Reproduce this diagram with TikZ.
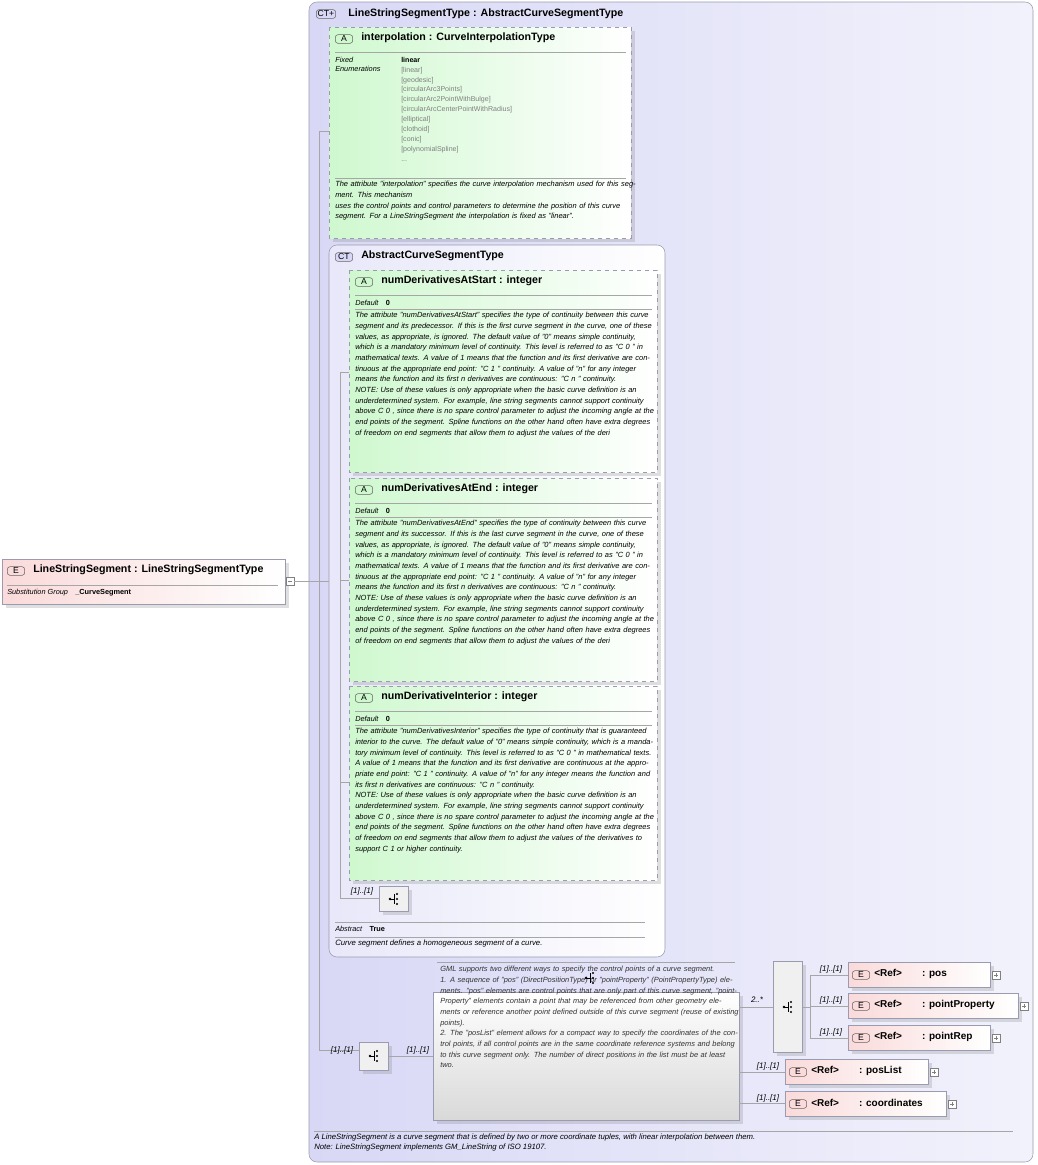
\documentclass[tikz,border=0pt]{standalone}
\usepackage{fontspec}
\setmainfont{Liberation Sans}
\usetikzlibrary{shadows}
\definecolor{lav}{HTML}{D8D8F6}
\definecolor{lavl}{HTML}{F2F2FC}
\definecolor{grn}{HTML}{CFF8CF}
\definecolor{pnk}{HTML}{FADADA}
\definecolor{bd}{HTML}{9A9AB0}
\tikzset{
 ctbox/.style={draw=bd,rounded corners=6pt,left color=lav,right color=lavl},
 abox/.style={draw=bd,dashed,left color=grn,right color=white,drop shadow={opacity=0.25}},
 ebox/.style={draw=bd,left color=pnk,right color=white,drop shadow={opacity=0.25}},
 seqbox/.style={draw=bd,fill=gray!12,drop shadow={opacity=0.25}},
 ttl/.style={anchor=west,font=\fontsize{8}{9}\selectfont\bfseries,inner sep=0},
 sm/.style={anchor=north west,inner sep=0,font=\fontsize{5.5}{7}\selectfont\itshape,align=left},
 desc/.style={anchor=north west,inner sep=0,font=\fontsize{5.6}{8}\selectfont\itshape,align=left,text width=226pt},
 lab/.style={inner sep=0,font=\fontsize{6}{7}\selectfont\itshape},
 badge/.style={draw=black!60,rounded corners=2pt,inner sep=1pt,minimum width=13pt,font=\fontsize{6.5}{7}\selectfont},
 sep/.style={draw=gray!70},
 conn/.style={draw=gray!70}
}
\newcommand{\seqicon}[1]{%
 \fill #1 ++(-4,0) circle (1.3);
 \draw #1 ++(-4,0) -- ++(4,0) ++(0,-5) -- ++(0,10);
 \fill #1 ++(3,-5) circle (1.2) ++(0,5) circle(1.2) ++(0,5) circle (1.2);}
\begin{document}
\begin{tikzpicture}[x=0.75pt,y=-0.75pt]
\useasboundingbox (0,0) rectangle (1038,1165);
% outer CT
\path[ctbox] (309,2) rectangle (1033,1162);
\node[badge,fill=lav] (ct1) at (326,14) {CT+};
\node[ttl] (t1) at (348,14) {LineStringSegmentType : AbstractCurveSegmentType};
% interpolation
\path[abox] (329,27) rectangle (631,238);
\node[badge,fill=grn] at (344,39) {A};
\node[ttl] (ai) at (361,38) {interpolation : CurveInterpolationType};
\draw[sep] (335,52) -- (626,52);
\node[sm] at (335,57) {Fixed\\Enumerations};
\node[sm,font=\fontsize{5.3}{7.4}\selectfont,text=gray] at (401,57) {\textcolor{black}{\bfseries linear}\\{}[linear]\\{}[geodesic]\\{}[circularArc3Points]\\{}[circularArc2PointWithBulge]\\{}[circularArcCenterPointWithRadius]\\{}[elliptical]\\{}[clothoid]\\{}[conic]\\{}[polynomialSpline]\\{}...};
\draw[sep] (335,178) -- (626,178);
\node[desc] at (335,181) {The attribute "interpolation" specifies the curve interpolation mechanism used for this segment. This mechanism\\ uses the control points and control parameters to determine the position of this curve segment. For a LineStringSegment the interpolation is fixed as "linear".};
% inner CT
\path[ctbox,left color=lavl!60!lav,right color=white] (329,245) rectangle (665,957);
\node[badge,fill=lav] at (344,257) {CT};
\node[ttl] at (361,256) {AbstractCurveSegmentType};
% attribute boxes
\foreach \y/\h/\name in {270/202/numDerivativesAtStart,478/203/numDerivativesAtEnd,686/194/numDerivativeInterior}{
 \path[abox] (349,\y) rectangle (657,\y+\h);
 \node[badge,fill=grn] at (364,\y+12) {A};
 \node[ttl] at (381,\y+11) {\name\ : integer};
 \draw[sep] (355,\y+25) -- (652,\y+25);
 \node[sm] at (355,\y+30) {Default\quad\upshape\bfseries 0};
 \draw[sep] (355,\y+39) -- (652,\y+39);
}
\node[desc] at (355,312) {The attribute "numDerivativesAtStart" specifies the type of continuity between this curve segment and its predecessor. If this is the first curve segment in the curve, one of these values, as appropriate, is ignored. The default value of "0" means simple continuity, which is a mandatory minimum level of continuity. This level is referred to as "C 0 " in mathematical texts. A value of 1 means that the function and its first derivative are continuous at the appropriate end point: "C 1 " continuity. A value of "n" for any integer means the function and its first n derivatives are continuous: "C n " continuity.\\ NOTE: Use of these values is only appropriate when the basic curve definition is an underdetermined system. For example, line string segments cannot support continuity above C 0 , since there is no spare control parameter to adjust the incoming angle at the end points of the segment. Spline functions on the other hand often have extra degrees of freedom on end segments that allow them to adjust the values of the deri};
\node[desc] at (355,520) {The attribute "numDerivativesAtEnd" specifies the type of continuity between this curve segment and its successor. If this is the last curve segment in the curve, one of these values, as appropriate, is ignored. The default value of "0" means simple continuity, which is a mandatory minimum level of continuity. This level is referred to as "C 0 " in mathematical texts. A value of 1 means that the function and its first derivative are continuous at the appropriate end point: "C 1 " continuity. A value of "n" for any integer means the function and its first n derivatives are continuous: "C n " continuity.\\ NOTE: Use of these values is only appropriate when the basic curve definition is an underdetermined system. For example, line string segments cannot support continuity above C 0 , since there is no spare control parameter to adjust the incoming angle at the end points of the segment. Spline functions on the other hand often have extra degrees of freedom on end segments that allow them to adjust the values of the deri};
\node[desc] at (355,728) {The attribute "numDerivativesInterior" specifies the type of continuity that is guaranteed interior to the curve. The default value of "0" means simple continuity, which is a mandatory minimum level of continuity. This level is referred to as "C 0 " in mathematical texts. A value of 1 means that the function and its first derivative are continuous at the appropriate end point: "C 1 " continuity. A value of "n" for any integer means the function and its first n derivatives are continuous: "C n " continuity.\\ NOTE: Use of these values is only appropriate when the basic curve definition is an underdetermined system. For example, line string segments cannot support continuity above C 0 , since there is no spare control parameter to adjust the incoming angle at the end points of the segment. Spline functions on the other hand often have extra degrees of freedom on end segments that allow them to adjust the values of the derivatives to support C 1 or higher continuity.};
% inner connectors
\draw[conn] (340,372) -- (340,898) (340,372) -- (349,372) (340,580) -- (349,580) (340,782) -- (349,782) (340,898) -- (379,898);
\node[seqbox,minimum width=22pt,minimum height=19pt,inner sep=0] (s1) at (394,899) {};
\seqicon{(394,899)}
\node[lab] at (362,891) {[1]..[1]};
\draw[sep] (335,922) -- (645,922);
\node[sm] at (335,926) {Abstract\quad\upshape\bfseries True};
\draw[sep] (335,937) -- (645,937);
\node[sm,font=\fontsize{5.8}{7}\selectfont\itshape] at (335,940) {Curve segment defines a homogeneous segment of a curve.};
% element left
\path[ebox] (2,559) rectangle (285,604);
\node[badge,fill=pnk] at (16,571) {E};
\node[ttl] (el) at (33,570) {LineStringSegment : LineStringSegmentType};
\draw[sep] (7,585) -- (278,585);
\node[sm] at (7,589) {Substitution Group\quad\upshape\bfseries \_CurveSegment};
\draw[gray,fill=white] (286,577) rectangle (294,585); \draw[gray] (288,581) -- (292,581);
% main connectors
\draw[conn] (294,581) -- (319,581) (319,131) -- (319,1050) (319,131) -- (329,131) (319,581) -- (329,581) (319,1050) -- (359,1050);
% bottom sequence
\node[seqbox,minimum width=22pt,minimum height=21pt,inner sep=0] (s2) at (374,1056) {};
\seqicon{(374,1056)}
\node[lab] at (342,1050) {[1]..[1]};
\draw[conn] (389,1056) -- (433,1056);
\node[lab] at (418,1050) {[1]..[1]};
% annotation
\draw[sep] (437,962) -- (735,962);
\path[draw=bd,top color=white,bottom color=gray!30,drop shadow={opacity=0.25}] (433,992) rectangle (739,1120);
\node[desc,text width=226pt,font=\fontsize{5.6}{8}\selectfont\itshape,text=black!80] at (440,966) {GML supports two different ways to specify the control points of a curve segment.\\ 1. A sequence of "pos" (DirectPositionType) or "pointProperty" (PointPropertyType) elements. "pos" elements are control points that are only part of this curve segment, "pointProperty" elements contain a point that may be referenced from other geometry elements or reference another point defined outside of this curve segment (reuse of existing points).\\ 2. The "posList" element allows for a compact way to specify the coordinates of the control points, if all control points are in the same coordinate reference systems and belong to this curve segment only. The number of direct positions in the list must be at least two.};
\seqicon{(590,978)}
% choice
\node[seqbox,minimum width=22pt,minimum height=68pt,inner sep=0] (ch) at (788,1007) {};
\seqicon{(788,1007)}
\draw[conn] (739,1007) -- (773,1007);
\node[lab] at (757,1000) {2..*};
\draw[conn] (739,1072) -- (785,1072) (739,1103) -- (785,1103);
\draw[conn] (803,1007) -- (810,1007) (810,975) -- (810,1038) (810,975) -- (848,975) (810,1006) -- (848,1006) (810,1038) -- (848,1038);
\foreach \x/\y/\w/\n in {848/962/142/pos,848/993/170/pointProperty,848/1025/142/pointRep,785/1059/143/posList,785/1091/161/coordinates}{
 \path[ebox] (\x,\y) rectangle (\x+\w,\y+25);
 \node[badge,fill=pnk] at (\x+13,\y+13) {E};
 \node[ttl,font=\fontsize{7.5}{9}\selectfont\bfseries] at (\x+26,\y+12) {<Ref>\qquad : \n};
 \draw[gray,fill=white] (\x+\w+2,\y+9) rectangle (\x+\w+10,\y+17); \draw[gray] (\x+\w+4,\y+13) -- (\x+\w+8,\y+13) (\x+\w+6,\y+11) -- (\x+\w+6,\y+15);
}
\node[lab] at (831,969) {[1]..[1]};
\node[lab] at (831,1000) {[1]..[1]};
\node[lab] at (831,1032) {[1]..[1]};
\node[lab] at (768,1066) {[1]..[1]};
\node[lab] at (768,1098) {[1]..[1]};
% bottom
\draw[sep] (314,1131) -- (1013,1131);
\node[sm,font=\fontsize{5.8}{7.2}\selectfont\itshape] at (314,1134) {A LineStringSegment is a curve segment that is defined by two or more coordinate tuples, with linear interpolation between them.\\ Note: LineStringSegment implements GM\_LineString of ISO 19107.};
\end{tikzpicture}
\end{document}
